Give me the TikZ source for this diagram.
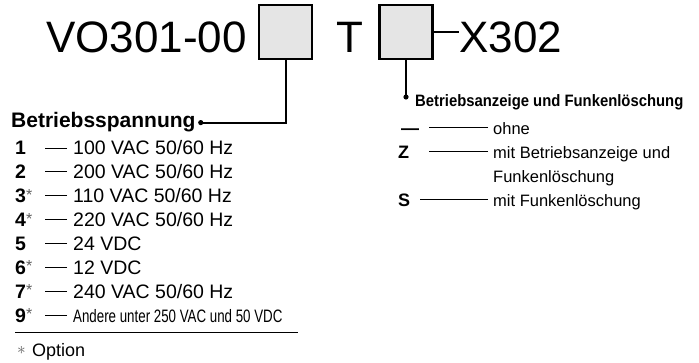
\documentclass[tikz,border=0pt]{standalone}
\usepackage{fontspec}
\setmainfont{Liberation Sans}
\newfontfamily\narrowfont[FakeStretch=0.74]{Liberation Sans}
\newfontfamily\semicondfont[FakeStretch=0.9]{Liberation Sans}
\usetikzlibrary{positioning, calc}
\definecolor{boxgray}{RGB}{229, 229, 229}
\definecolor{stargray}{RGB}{95, 95, 95}

\begin{document}
\begin{tikzpicture}[x=1pt, y=-1pt,
    codebox/.style={draw=black, line width=2.2pt, fill=boxgray, minimum width=53pt, minimum height=54pt, inner sep=0pt},
    title/.style={font=\fontsize{44}{44}\selectfont, inner sep=0pt, anchor=base west},
    itemtext/.style={font=\fontsize{19.5}{20}\selectfont, inner sep=0pt, anchor=base west, text height=14pt, text depth=0pt},
    itemnum/.style={font=\fontsize{19.5}{20}\selectfont\bfseries, inner sep=0pt, anchor=base west},
    optstar/.style={font=\fontsize{16}{16}\selectfont, text=stargray, inner sep=0pt, anchor=base west},
    rtext/.style={font=\fontsize{16.5}{17}\selectfont, inner sep=0pt, anchor=base west, text height=15.5pt, text depth=0pt},
    rnum/.style={font=\fontsize{18}{18}\selectfont\bfseries, inner sep=0pt, anchor=base west},
    leader/.style={line width=0.9pt},
    connector/.style={line width=2pt}]
        \useasboundingbox (0,0) rectangle (699,363);

        % Order code
        \node[title] (vo) at (46,53) {VO301-00};
        \node[codebox] (box1) at (285.5,32) {};
        \node[title] (tt) at (336,53) {T};
        \node[codebox] (box2) at (406,32) {};
        \node[title] (xs) at (459,53) {X302};
        \draw[connector] (box2.east) -- (box2.east -| xs.west);

        % Betriebsspannung (left)
        \node[font=\fontsize{21}{21}\selectfont\bfseries, inner sep=0pt, anchor=base west] (spannung) at (11,128) {Betriebsspannung};
        \coordinate (sdot) at ([xshift=5pt]spannung.east);
        \draw[connector] (box1.south) |- (sdot);
        \fill (sdot) circle (2.6);

        \node[itemnum] (n1) at (15,155) {1};
        \node[itemtext] (v1) at (73,155) {100 VAC 50/60 Hz};
        \node[itemnum] (n2) at (15,178.9) {2};
        \node[itemtext] (v2) at (73,178.9) {200 VAC 50/60 Hz};
        \node[itemnum] (n3) at (15,202.8) {3};
        \node[optstar] (s3) at (26,200.3) {*};
        \node[itemtext] (v3) at (73,202.8) {110 VAC 50/60 Hz};
        \node[itemnum] (n4) at (15,226.7) {4};
        \node[optstar] (s4) at (26,224.2) {*};
        \node[itemtext] (v4) at (73,226.7) {220 VAC 50/60 Hz};
        \node[itemnum] (n5) at (15,250.6) {5};
        \node[itemtext] (v5) at (73,250.6) {24 VDC};
        \node[itemnum] (n6) at (15,274.5) {6};
        \node[optstar] (s6) at (26,272) {*};
        \node[itemtext] (v6) at (73,274.5) {12 VDC};
        \node[itemnum] (n7) at (15,298.4) {7};
        \node[optstar] (s7) at (26,295.9) {*};
        \node[itemtext] (v7) at (73,298.4) {240 VAC 50/60 Hz};
        \node[itemnum] (n9) at (15,322.3) {9};
        \node[optstar] (s9) at (26,319.8) {*};
        \node[itemtext, font=\narrowfont\fontsize{18}{18}\selectfont] (v9) at (73,322.3) {Andere unter 250 VAC und 50 VDC};
        \foreach \v in {v1,v2,v3,v4,v5,v6,v7,v9}
            \draw[leader] ([xshift=-6pt]\v.west) -- ([xshift=-28pt]\v.west);

        \draw[line width=0.9pt] (15,332) -- (298,332);
        \node[font=\fontsize{18}{18}\selectfont, text=stargray, inner sep=0pt] (ostar) at (21.5,350) {$\ast$};
        \node[font=\fontsize{18}{18}\selectfont, inner sep=0pt, anchor=base west] (option) at (32,356.5) {Option};

        % Betriebsanzeige und Funkenloeschung (right)
        \node[font=\semicondfont\fontsize{16.5}{17}\selectfont\bfseries, inner sep=0pt, anchor=base west] (anzeige) at (415,106.5) {Betriebsanzeige und Funkenlöschung};
        \coordinate (adot) at (406,97);
        \draw[connector] (box2.south) -- (adot);
        \fill (adot) circle (2.6);

        \node[rnum] (rdash) at (401,135) {—};
        \node[rtext] (r1) at (493,135) {ohne};
        \node[rnum] (rz) at (398,159) {Z};
        \node[rtext] (r2) at (493,159) {mit Betriebsanzeige und};
        \node[rtext] (r2b) at (493,183) {Funkenlöschung};
        \node[rnum] (rs) at (398,207) {S};
        \node[rtext] (r3) at (493,207) {mit Funkenlöschung};
        \draw[leader] ([xshift=-5pt]r1.west) -- ([xshift=-64pt]r1.west);
        \draw[leader] ([xshift=-5pt]r2.west) -- ([xshift=-64pt]r2.west);
        \draw[leader] ([xshift=-5pt]r3.west) -- ([xshift=-73pt]r3.west);
    \end{tikzpicture}
\end{document}
